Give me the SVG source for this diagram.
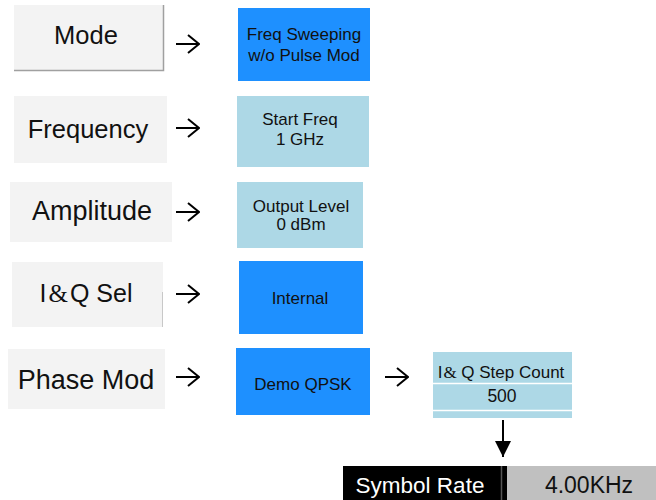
<svg xmlns="http://www.w3.org/2000/svg" width="656" height="500" viewBox="0 0 656 500">
<style>
text{font-family:"Liberation Sans",Arial,sans-serif;fill:#111;text-anchor:middle}
.key{fill:#f3f3f3}
.blue{fill:#1e90ff}
.lblue{fill:#add8e6}
.arr{stroke:#000;stroke-width:2;fill:none}
.val{font-size:17px}
</style>
<defs>
<marker id="ah" viewBox="0 0 13 20" refX="12" refY="10" markerWidth="13" markerHeight="20" markerUnits="userSpaceOnUse" orient="auto"><path d="M1,1 L12,10 L1,19" fill="none" stroke="#000" stroke-width="2"/></marker>
<marker id="tri" viewBox="0 0 16 17" refX="16" refY="8" markerWidth="16" markerHeight="17" markerUnits="userSpaceOnUse" orient="auto"><path d="M0,0 L16,8 L0,16 Z" fill="#000"/></marker>
</defs>
<rect width="656" height="500" fill="#fff"/>
<g id="mode">
<rect class="key" x="14" y="5" width="150" height="65"/>
<path d="M163.5,5 V70.5 H14" stroke="#a0a0a0" stroke-width="1.5" fill="none"/>
<text x="86" y="44" font-size="25.5">Mode</text>
</g>
<g id="mode-val">
<rect class="blue" x="238" y="8" width="132" height="73"/>
<text class="val" x="304" y="40">Freq Sweeping</text>
<text class="val" x="304" y="61">w/o Pulse Mod</text>
</g>
<g id="frequency">
<rect class="key" x="14" y="96" width="153" height="67"/>
<text x="88" y="138" font-size="25.5">Frequency</text>
</g>
<g id="frequency-val">
<rect class="lblue" x="237" y="96" width="132" height="71"/>
<text class="val" x="300" y="125">Start Freq</text>
<text class="val" x="300" y="145">1 GHz</text>
</g>
<g id="amplitude">
<rect class="key" x="10" y="182" width="162" height="60"/>
<text x="92" y="220" font-size="27">Amplitude</text>
</g>
<g id="amplitude-val">
<rect class="lblue" x="237" y="182" width="126" height="66"/>
<text class="val" x="301" y="212">Output Level</text>
<text class="val" x="301" y="230">0 dBm</text>
</g>
<g id="iq-sel">
<rect class="key" x="12" y="262" width="151" height="65"/>
<path d="M162.5,292 V327" stroke="#c8c8c8" stroke-width="1"/>
<text x="86" y="302" font-size="25">I<tspan dx="2" font-family="'Liberation Serif',serif">&amp;</tspan><tspan dx="2">Q Sel</tspan></text>
</g>
<g id="iq-sel-val">
<rect class="blue" x="239" y="261" width="124" height="73"/>
<text class="val" x="300" y="304">Internal</text>
</g>
<g id="phase-mod">
<rect class="key" x="8" y="349" width="157" height="60"/>
<text x="86" y="389" font-size="27">Phase Mod</text>
</g>
<g id="phase-mod-val">
<rect class="blue" x="236" y="348" width="134" height="67"/>
<text class="val" x="303" y="390">Demo QPSK</text>
</g>
<g id="step-count">
<rect class="lblue" x="433" y="352" width="139" height="66"/>
<path d="M433,383.5 H572 M433,410.5 H572" stroke="#fff" stroke-width="1.5"/>
<text x="501" y="378" font-size="17">I<tspan dx="1" font-family="'Liberation Serif',serif">&amp;</tspan> Q Step Count</text>
<text x="502" y="402" font-size="17.5">500</text>
</g>
<g id="symbol-rate">
<rect x="343" y="466" width="164" height="34" fill="#000"/>
<path d="M501.5,466 V500" stroke="#555" stroke-width="1.5"/>
<rect x="507" y="466" width="149" height="34" fill="#c0c0c0"/>
<text x="420" y="493" font-size="22.5" style="fill:#fff">Symbol Rate</text>
<text x="589" y="493" font-size="23">4.00KHz</text>
</g>
<g id="connectors">
<path class="arr" d="M176,44 H199" marker-end="url(#ah)"/>
<path class="arr" d="M176,128 H199" marker-end="url(#ah)"/>
<path class="arr" d="M176,212 H199" marker-end="url(#ah)"/>
<path class="arr" d="M176,294 H199" marker-end="url(#ah)"/>
<path class="arr" d="M176,377 H199" marker-end="url(#ah)"/>
<path class="arr" d="M385,377 H408" marker-end="url(#ah)"/>
<path class="arr" d="M503,420 V457" marker-end="url(#tri)"/>
</g>
</svg>
